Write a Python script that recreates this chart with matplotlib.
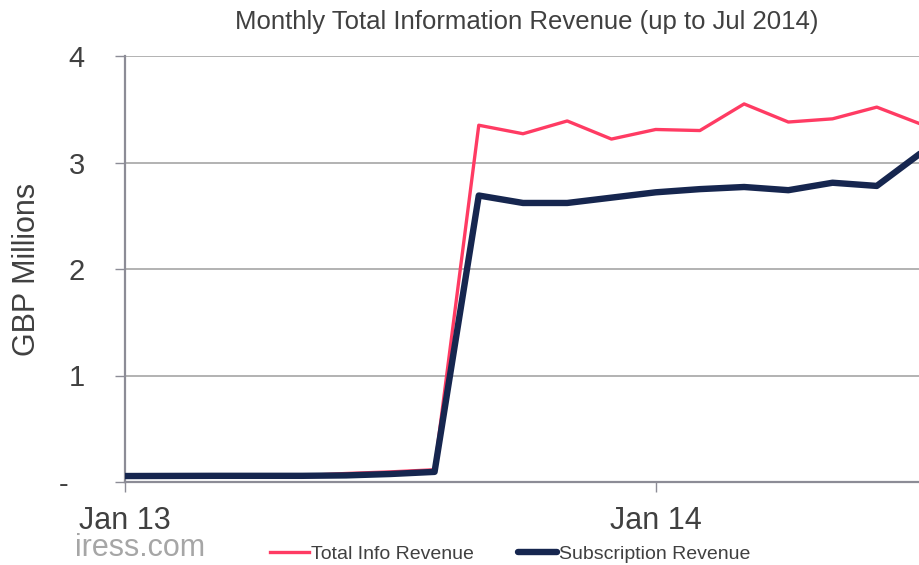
import numpy as np
import matplotlib
matplotlib.use("Agg")
import matplotlib.pyplot as plt

plt.rcParams['font.family'] = ['Liberation Sans', 'DejaVu Sans']

# months Jan 13 .. Jul 14
months = ['Jan 13', 'Feb 13', 'Mar 13', 'Apr 13', 'May 13', 'Jun 13', 'Jul 13',
          'Aug 13', 'Sep 13', 'Oct 13', 'Nov 13', 'Dec 13', 'Jan 14', 'Feb 14',
          'Mar 14', 'Apr 14', 'May 14', 'Jun 14', 'Jul 14']
total_info = [0.056, 0.057, 0.058, 0.058, 0.060, 0.080, 0.095, 0.115,
              3.35, 3.27, 3.39, 3.22, 3.31, 3.30, 3.55, 3.38, 3.41, 3.52, 3.36]
subscription = [0.056, 0.057, 0.058, 0.058, 0.058, 0.062, 0.075, 0.095,
                2.69, 2.62, 2.62, 2.67, 2.72, 2.75, 2.77, 2.74, 2.81, 2.78, 3.09]
tick_months = ['Jan 13', 'Jan 14']
yticks = [0, 1, 2, 3, 4]
ylabels = ['-  ', '1', '2', '3', '4']

x = np.arange(len(months))
txt = '#404040'
pink = '#FF3B63'
navy = '#16264F'

fig = plt.figure(figsize=(9.19, 5.65), dpi=100)
ax = fig.add_axes([125 / 919, 1 - 482 / 565, (921 - 125) / 919, (482 - 56) / 565])

ax.plot(x, total_info, color=pink, lw=2.4, label='Total Info Revenue', zorder=3)
ax.plot(x, subscription, color=navy, lw=4.6, label='Subscription Revenue', zorder=3,
        solid_capstyle='round')

ax.set_xlim(0, 18)
ax.set_ylim(0, 4)
ax.set_yticks(yticks)
ax.set_yticklabels(ylabels)
ax.set_xticks([months.index(m) for m in tick_months])
ax.set_xticklabels(tick_months)
ax.grid(axis='y', color='#A6A6A6', lw=1.2)
ax.set_axisbelow(True)

for s in ['top', 'right']:
    ax.spines[s].set_visible(False)
ax.spines['left'].set_color('#8C8C96')
ax.spines['left'].set_linewidth(1.6)
ax.spines['bottom'].set_color('#8C8C96')
ax.spines['bottom'].set_linewidth(1.6)
ax.spines['bottom'].set_zorder(4)

ax.tick_params(axis='y', length=7, width=1.0, color='#8C8C96', labelsize=21,
               labelcolor=txt, pad=22)
ax.tick_params(axis='x', length=7, width=1.0, color='#8C8C96', labelsize=22,
               labelcolor=txt, pad=10)

ax.set_ylabel('GBP Millions', fontsize=22, color=txt, labelpad=12)
fig.text(527 / 919, 1 - 22 / 565, 'Monthly Total Information Revenue (up to Jul 2014)',
         ha='center', va='center', fontsize=18.5, color=txt)
fig.text(75 / 919, 1 - 548 / 565, 'iress.com', ha='left', va='center',
         fontsize=22, color='#A6A6A6')

leg = fig.legend(loc='center', bbox_to_anchor=(510 / 919, 1 - 554 / 565), ncol=2,
                 frameon=False, fontsize=14, handlelength=2.0, handletextpad=0.1,
                 columnspacing=2.3)
for t in leg.get_texts():
    t.set_color(txt)

fig.savefig('out.png', dpi=100)
